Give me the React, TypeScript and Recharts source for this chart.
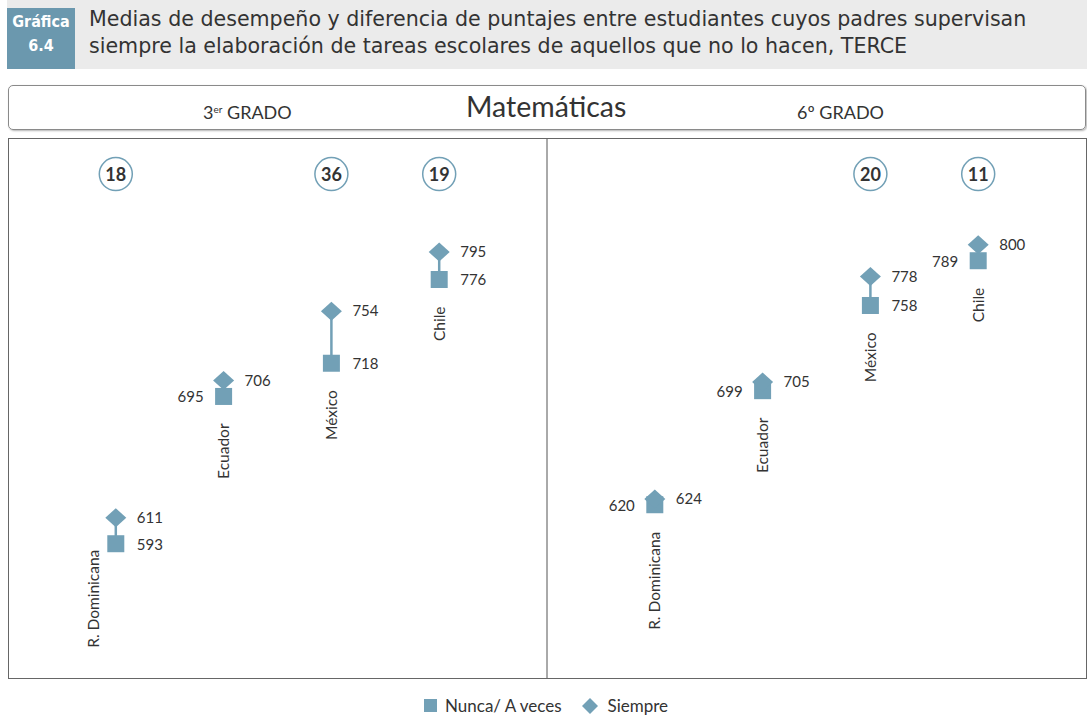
import React from 'react';
import { ComposedChart, Line, XAxis, YAxis, ReferenceLine, ReferenceDot } from 'recharts';

const countries = ['R. Dominicana', 'Ecuador', 'México', 'Chile'];
const nunca3 = [593, 695, 718, 776];
const siempre3 = [611, 706, 754, 795];
const diff3 = [18, null, 36, 19];
const nunca6 = [620, 699, 758, 789];
const siempre6 = [624, 705, 778, 800];
const diff6 = [null, null, 20, 11];

const BLUE = '#72a0b6';
const TXT = '#333';
const FONT = 'Lato, "Open Sans", sans-serif';
const BADGE_LEVEL = 849;
const CHART_W = 1078;
const CHART_H = 540;

const rows = [
  ...countries.map((c, i) => ({ x: i + 1, country: c, nunca: nunca3[i], siempre: siempre3[i], diff: diff3[i] })),
  ...countries.map((c, i) => ({ x: i + 6, country: c, nunca: nunca6[i], siempre: siempre6[i], diff: diff6[i] })),
];

const SquareDot = (props: any) => {
  const { cx, cy, payload } = props;
  if (cx == null || cy == null) return null;
  const small = payload.siempre - payload.nunca < 15;
  const lblLen = payload.country.length * 7.9;
  let lx = cx;
  let ly = cy + 27;
  if (ly + lblLen > CHART_H - 10) {
    lx = cx - 22;
    ly = cy + 6;
  }
  return (
    <g>
      <rect x={cx - 8.5} y={cy - 8.5} width={17} height={17} fill={BLUE} />
      <text
        x={small ? cx - 20 : cx + 21}
        y={cy}
        textAnchor={small ? 'end' : 'start'}
        dominantBaseline="central"
        fontSize={15}
        fontFamily={FONT}
        fill={TXT}
      >
        {payload.nunca}
      </text>
      <text
        x={lx}
        y={ly}
        transform={`rotate(-90 ${lx} ${ly})`}
        textAnchor="end"
        dy="0.35em"
        fontSize={15.5}
        fontFamily={FONT}
        fill={TXT}
      >
        {payload.country}
      </text>
    </g>
  );
};

const DiamondDot = (props: any) => {
  const { cx, cy, payload } = props;
  if (cx == null || cy == null) return null;
  return (
    <g>
      <polygon points={`${cx},${cy - 9.5} ${cx + 10.5},${cy} ${cx},${cy + 9.5} ${cx - 10.5},${cy}`} fill={BLUE} />
      <text x={cx + 21} y={cy - 1} dominantBaseline="central" fontSize={15} fontFamily={FONT} fill={TXT}>
        {payload.siempre}
      </text>
    </g>
  );
};

const Badge = (value: number) => (props: any) => {
  const { cx, cy } = props;
  return (
    <g>
      <circle cx={cx} cy={cy} r={16.5} fill="#fff" stroke={BLUE} strokeWidth={1.5} />
      <text x={cx} y={cy} textAnchor="middle" dominantBaseline="central" fontSize={18} fontWeight={700} fontFamily={FONT} fill={TXT}>
        {value}
      </text>
    </g>
  );
};

export default function App() {
  return (
    <div style={{ position: 'absolute', left: 0, top: 0, width: 1087, height: 718, background: '#fff', fontFamily: FONT }}>
      {/* title bar */}
      <div style={{ position: 'absolute', left: 7, top: 0, width: 1080, height: 69, background: '#ebebeb' }} />
      <div
        style={{
          position: 'absolute', left: 7, top: 8, width: 68, height: 61, background: '#6b98ae', color: '#fff',
          fontFamily: '"DejaVu Sans", sans-serif', fontStretch: 'condensed', fontWeight: 700, fontSize: 16,
          textAlign: 'center', lineHeight: '24px', paddingTop: 2, boxSizing: 'border-box',
        }}
      >
        <div>Gráfica</div>
        <div>6.4</div>
      </div>
      <div style={{ position: 'absolute', left: 89, top: 6, fontFamily: '"DejaVu Sans", sans-serif', fontSize: 20.6, lineHeight: '27px', color: TXT, whiteSpace: 'nowrap' }}>
        <div>Medias de desempeño y diferencia de puntajes entre estudiantes cuyos padres supervisan</div>
        <div>siempre la elaboración de tareas escolares de aquellos que no lo hacen, TERCE</div>
      </div>

      {/* header box */}
      <div
        style={{
          position: 'absolute', left: 8, top: 85, width: 1078, height: 45, boxSizing: 'border-box',
          border: '1px solid #8a8a8a', borderRadius: 5, boxShadow: '1px 1px 2px rgba(0,0,0,0.3)',
        }}
      />
      <div style={{ position: 'absolute', left: 203, top: 101, fontSize: 18, color: TXT, whiteSpace: 'nowrap' }}>
        3<sup style={{ fontSize: 10, verticalAlign: 6 }}>er</sup> GRADO
      </div>
      <div style={{ position: 'absolute', left: 466, top: 89, fontSize: 28.5, color: TXT, whiteSpace: 'nowrap' }}>Matemáticas</div>
      <div style={{ position: 'absolute', left: 797, top: 101, fontSize: 18, color: TXT, whiteSpace: 'nowrap' }}>6º GRADO</div>

      {/* panels */}
      <div style={{ position: 'absolute', left: 8, top: 138 }}>
        <ComposedChart width={CHART_W} height={CHART_H} data={rows} margin={{ top: 0, right: 0, bottom: 0, left: 0 }}>
          <XAxis type="number" dataKey="x" domain={[0, 10]} hide />
          <YAxis type="number" domain={[500, 874]} hide />
          <ReferenceLine x={5} stroke="#555" strokeWidth={1} />
          {rows.map((r) => (
            <Line
              key={`seg-${r.x}`}
              data={[{ x: r.x, v: r.nunca }, { x: r.x, v: r.siempre }]}
              dataKey="v"
              stroke={BLUE}
              strokeWidth={2.5}
              dot={false}
              activeDot={false}
              isAnimationActive={false}
            />
          ))}
          <Line dataKey="nunca" stroke="none" dot={(p: any) => <SquareDot key={`sq-${p.index}`} {...p} />} activeDot={false} isAnimationActive={false} />
          <Line dataKey="siempre" stroke="none" dot={(p: any) => <DiamondDot key={`dm-${p.index}`} {...p} />} activeDot={false} isAnimationActive={false} />
          {rows
            .filter((r) => r.diff != null)
            .map((r) => (
              <ReferenceDot key={`b-${r.x}`} x={r.x} y={BADGE_LEVEL} r={16} shape={Badge(r.diff as number)} />
            ))}
        </ComposedChart>
      </div>
      <div style={{ position: 'absolute', left: 8, top: 138, width: 1079, height: 541, boxSizing: 'border-box', border: '1px solid #666', pointerEvents: 'none' }} />

      {/* legend */}
      <div style={{ position: 'absolute', left: 424, top: 695, display: 'flex', alignItems: 'center', fontSize: 17, color: TXT, whiteSpace: 'nowrap' }}>
        <svg width={13} height={13} style={{ marginRight: 8 }}>
          <rect width={13} height={13} fill={BLUE} />
        </svg>
        <span>Nunca/ A veces</span>
        <svg width={16} height={16} style={{ marginLeft: 20, marginRight: 10 }}>
          <polygon points="8,0 16,8 8,16 0,8" fill={BLUE} />
        </svg>
        <span>Siempre</span>
      </div>
    </div>
  );
}
